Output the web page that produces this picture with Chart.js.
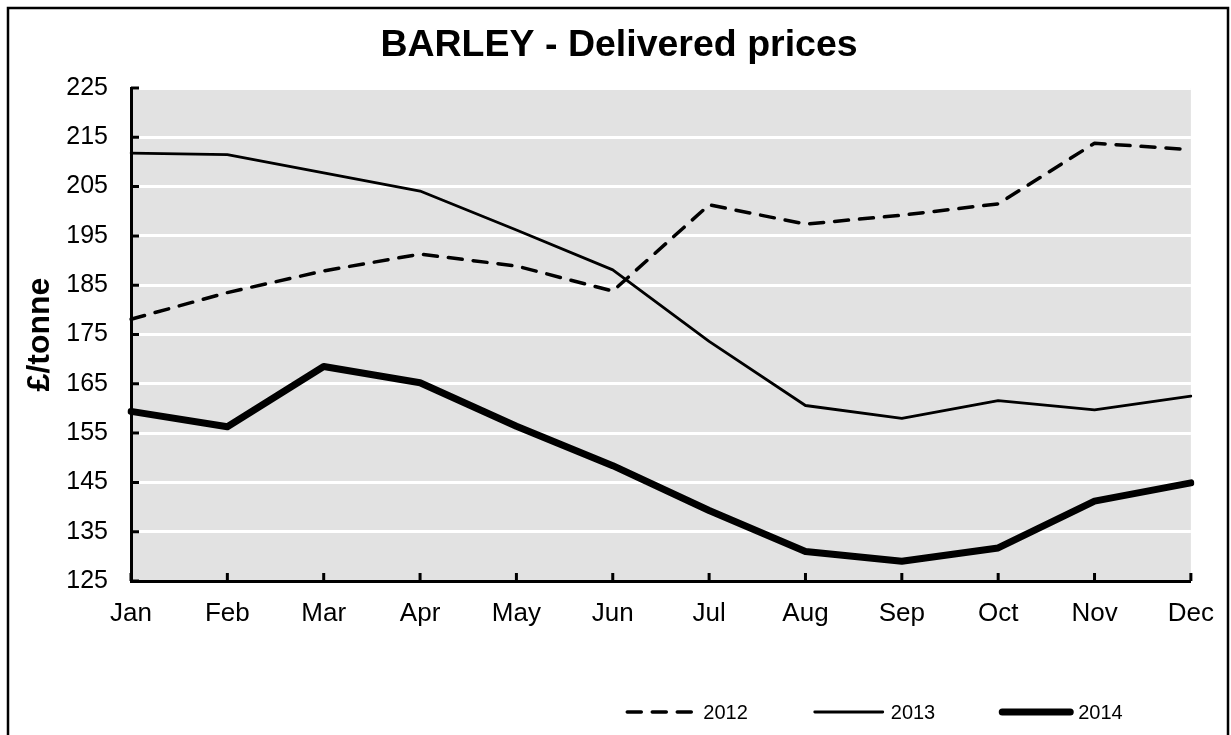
<!DOCTYPE html>
<html>
<head>
<meta charset="utf-8">
<title>BARLEY - Delivered prices</title>
<script src="https://cdn.jsdelivr.net/npm/chart.js@4.4.0/dist/chart.umd.min.js"></script>
<style>
  html, body { margin: 0; padding: 0; background: #fff; }
  #wrap { width: 1231px; height: 735px; position: relative; }
</style>
</head>
<body>
<div id="wrap"><canvas id="priceChart" width="1231" height="735"></canvas></div>
<script>
// --- data ---
const months = ['Jan', 'Feb', 'Mar', 'Apr', 'May', 'Jun', 'Jul', 'Aug', 'Sep', 'Oct', 'Nov', 'Dec'];
const prices2012 = [178.1, 183.5, 187.9, 191.3, 188.9, 183.8, 201.3, 197.4, 199.2, 201.5, 213.8, 212.5];
const prices2013 = [211.8, 211.5, 207.8, 204.1, 196.2, 188.1, 173.6, 160.6, 158.0, 161.6, 159.7, 162.5];
const prices2014 = [159.4, 156.3, 168.5, 165.2, 156.4, 148.4, 139.3, 131.0, 129.0, 131.7, 141.2, 144.9];
const yMin = 125, yMax = 225, yStep = 10;

const FONT = "'Liberation Sans', Arial, sans-serif";

// grey plot area + outer frame
const frame = {
    id: 'frame',
    beforeDraw(chart) {
        const { ctx, chartArea: a } = chart;
        ctx.save();
        ctx.fillStyle = '#e2e2e2';
        ctx.fillRect(a.left, a.top, a.right - a.left, a.bottom - a.top);
        ctx.restore();
    },
    afterDraw(chart) {
        const { ctx, chartArea: a, scales } = chart;
        ctx.save();
        // inward tick marks
        ctx.strokeStyle = '#000';
        ctx.lineWidth = 3;
        ctx.beginPath();
        scales.y.ticks.forEach((t, i) => {
            const y = scales.y.getPixelForTick(i);
            ctx.moveTo(a.left, y); ctx.lineTo(a.left + 8, y);
        });
        scales.x.ticks.forEach((t, i) => {
            const x = scales.x.getPixelForTick(i);
            ctx.moveTo(x, a.bottom); ctx.lineTo(x, a.bottom - 8);
        });
        ctx.stroke();
        // outer border
        ctx.lineWidth = 2.5;
        ctx.strokeRect(8, 8, 1220, 760);
        ctx.restore();
    }
};

// legend row under the chart
const legendRow = {
    id: 'legendRow',
    afterDraw(chart) {
        const { ctx } = chart;
        const lineLen = 72, gap = 6, spacing = 65, y = 712;
        ctx.save();
        ctx.font = '20px ' + FONT;
        const items = chart.data.datasets.map(ds => ({ ds, w: ctx.measureText(ds.label).width }));
        const total = items.reduce((s, it) => s + lineLen + gap + it.w, 0) + spacing * (items.length - 1);
        let x = 874 - total / 2;
        items.forEach(({ ds, w }) => {
            ctx.strokeStyle = '#000';
            ctx.lineWidth = ds.borderWidth;
            ctx.lineCap = ds.borderCapStyle || 'butt';
            ctx.setLineDash(ds.borderDash || []);
            ctx.beginPath();
            ctx.moveTo(x + 2, y); ctx.lineTo(x + lineLen - 2, y);
            ctx.stroke();
            ctx.setLineDash([]);
            ctx.fillStyle = '#000';
            ctx.textBaseline = 'middle';
            ctx.fillText(ds.label, x + lineLen + gap, y + 1);
            x += lineLen + gap + w + spacing;
        });
        ctx.restore();
    }
};

const ctx = document.getElementById('priceChart').getContext('2d');
const priceChart = new Chart(ctx, {
    type: 'line',
    data: {
        labels: months,
        datasets: [
            { label: '2012', data: prices2012, borderColor: '#000', borderWidth: 3.5, borderDash: [14, 11], borderCapStyle: 'round', borderJoinStyle: 'round', pointRadius: 0, tension: 0 },
            { label: '2013', data: prices2013, borderColor: '#000', borderWidth: 2.8, borderCapStyle: 'round', borderJoinStyle: 'round', pointRadius: 0, tension: 0 },
            { label: '2014', data: prices2014, borderColor: '#000', borderWidth: 7, borderCapStyle: 'round', borderJoinStyle: 'round', pointRadius: 0, tension: 0 }
        ]
    },
    options: {
        responsive: false,
        animation: false,
        devicePixelRatio: 1,
        layout: { padding: { left: 9, top: 8, right: 2, bottom: 94 } },
        plugins: {
            legend: { display: false },
            tooltip: { enabled: false },
            title: {
                display: true,
                text: 'BARLEY - Delivered prices',
                color: '#000',
                font: { family: FONT, size: 37.5, weight: 'bold' },
                padding: { top: 15, bottom: 20 }
            }
        },
        scales: {
            x: {
                offset: false,
                grid: { display: true, color: 'rgba(0,0,0,0)', drawTicks: false },
                border: { display: true, color: '#000', width: 3 },
                ticks: { color: '#000', font: { family: FONT, size: 26 }, padding: 17, maxRotation: 0, autoSkip: false },
                afterFit(scale) { scale.height = 60; }
            },
            y: {
                min: yMin, max: yMax,
                grid: { color: '#fff', lineWidth: 3, drawTicks: false },
                border: { display: true, color: '#000', width: 3 },
                ticks: { stepSize: yStep, color: '#000', font: { family: FONT, size: 25 }, padding: 23 },
                title: {
                    display: true,
                    text: '£/tonne',
                    color: '#000',
                    font: { family: FONT, size: 32, weight: 'bold' },
                    padding: { top: 12, bottom: 0 }
                },
                afterFit(scale) { scale.width = 122; }
            },
            // empty right-hand spacer so the title centres like the original
            yRight: {
                position: 'right',
                display: true,
                grid: { display: false, drawTicks: false },
                border: { display: false },
                ticks: { display: false },
                afterFit(scale) { scale.width = 31; }
            }
        }
    },
    plugins: [frame, legendRow]
});
</script>
</body>
</html>
